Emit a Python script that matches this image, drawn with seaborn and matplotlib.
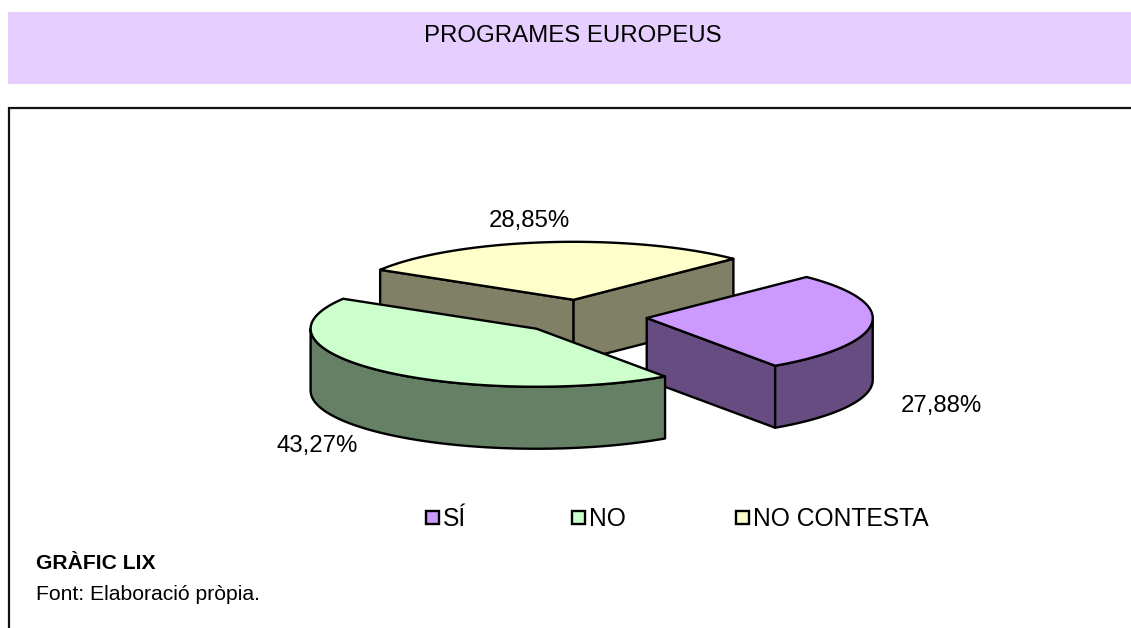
import numpy as np
import seaborn as sns
import matplotlib.pyplot as plt
from matplotlib.patches import Polygon, Rectangle

categories = ['SÍ', 'NO', 'NO CONTESTA']
values = [27.88, 43.27, 28.85]
value_labels = ['27,88%', '43,27%', '28,85%']
top_colors = ['#CC99FF', '#CCFFCC', '#FFFFCC']
side_colors = ['#664C80', '#668066', '#808066']

# pie shape in pixels
CX, CY = 581.5, 316.5
RX, RY = 226, 58
DEPTH = 62
EXPLODE = 65.5
START = 45

sns.set_theme(style='white')
plt.rcParams['font.family'] = ['Liberation Sans', 'DejaVu Sans']

fig = plt.figure(figsize=(11.31, 6.28), dpi=100)
ax = fig.add_axes([0, 0, 1, 1])
ax.set_xlim(0, 1131)
ax.set_ylim(628, 0)
ax.axis('off')

ax.add_patch(Rectangle((8, 12), 1123, 72, fc='#E6CFFF', ec='none'))
ax.text(573, 36.5, 'PROGRAMES EUROPEUS', ha='center', va='center', fontsize=17.3, color='black')
ax.plot([1131, 8.5, 8.5], [107.5, 107.5, 628], color='#111111', lw=1.6, solid_joinstyle='miter')


def pt(c, t, down=0):
    a = np.radians(t)
    return np.column_stack([c[0] + RX * np.cos(a), c[1] - RY * np.sin(a) + down])


def draw_poly(xy, color, z):
    ax.add_patch(Polygon(xy, closed=True, fc=color, ec='black', lw=1.7, joinstyle='round', zorder=z))


# clockwise from START
edges = START - np.cumsum([0] + values) * 3.6
centers = []
for i in range(len(values)):
    mid = np.radians((edges[i] + edges[i + 1]) / 2)
    centers.append((CX + EXPLODE * np.cos(mid), CY - EXPLODE * RY / RX * np.sin(mid)))

order = [2, 0, 1]  # back slice first, green sits over purple
for z, i in enumerate(order):
    c = centers[i]
    t0, t1 = edges[i], edges[i + 1]
    ts = np.linspace(t0, t1, 120)
    centre = np.array([c])

    # flat cut faces, only those turned to the viewer
    for t in (t0, t1):
        end = pt(c, np.array([t]))
        a = np.radians(t)
        inward = np.sin(np.radians((t0 + t1) / 2 - t))
        # normal of the cut in ellipse space points away from the slice
        if (np.sin(a + np.pi / 2) * np.sign(inward)) > 0:
            face = np.vstack([centre, end, end + [0, DEPTH], centre + [0, DEPTH]])
            draw_poly(face, side_colors[i], 10 * z + 1)

    # outer wall, front half of the rim only
    front = ts[np.sin(np.radians(ts)) < 0]
    if len(front):
        rim = pt(c, front)
        draw_poly(np.vstack([rim, rim[::-1] + [0, DEPTH]]), side_colors[i], 10 * z + 2)

    draw_poly(np.vstack([centre, pt(c, ts)]), top_colors[i], 10 * z + 3)

# value labels
label_pos = [(941, 406), (317, 446), (529, 221)]
for (x, y), s in zip(label_pos, value_labels):
    ax.text(x, y, s, ha='center', va='center', fontsize=17.3, color='black', zorder=50)

# legend
legend_x = [426, 572, 736]
for x, name, col in zip(legend_x, categories, top_colors):
    ax.add_patch(Rectangle((x, 511), 13, 13, fc=col, ec='black', lw=1.7, zorder=50))
    ax.text(x + 17, 518.5, name, ha='left', va='center', fontsize=17.7, color='black', zorder=50)

ax.text(36, 563.5, 'GRÀFIC LIX', ha='left', va='center', fontsize=15.2, fontweight='bold', color='black')
ax.text(36, 594.5, 'Font: Elaboració pròpia.', ha='left', va='center', fontsize=15.2, color='black')

fig.savefig('out.png', dpi=100)
